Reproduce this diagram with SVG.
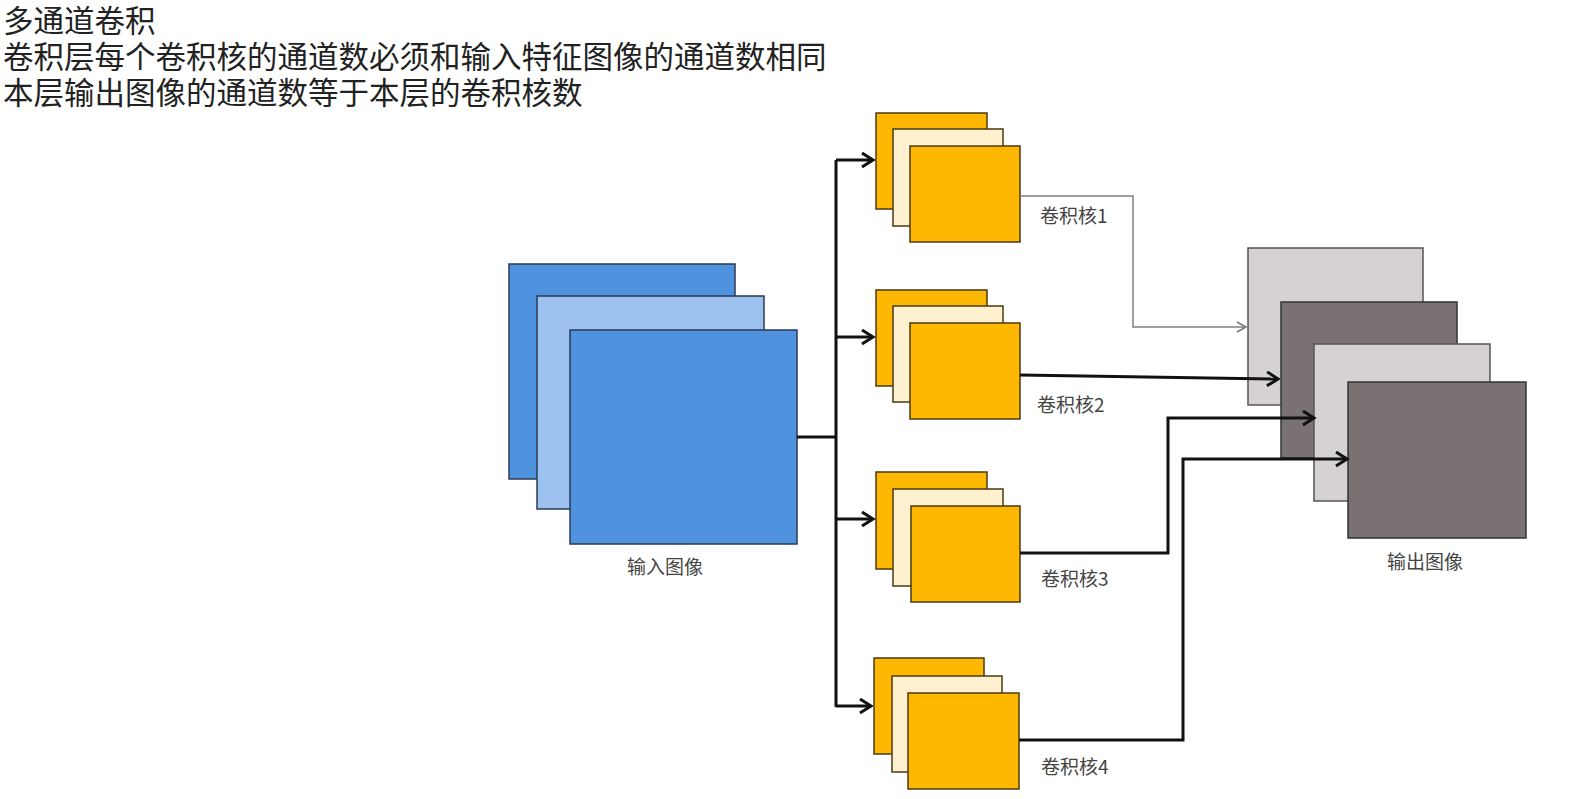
<svg xmlns="http://www.w3.org/2000/svg" width="1574" height="799" viewBox="0 0 1574 799">
<defs>
<marker id="ah" markerUnits="userSpaceOnUse" markerWidth="16" markerHeight="18" refX="13" refY="8" orient="auto" viewBox="0 0 16 18">
<path d="M2,1 L13,8 L2,15" fill="none" stroke="#111" stroke-width="3"/>
</marker>
<marker id="ahThin" markerUnits="userSpaceOnUse" markerWidth="14" markerHeight="14" refX="11" refY="6" orient="auto" viewBox="0 0 14 14">
<path d="M2,1 L11,6 L2,11" fill="none" stroke="#777" stroke-width="1.5"/>
</marker>
</defs>
<style>
.title{font-family:"Noto Sans CJK SC","Noto Sans",sans-serif;font-size:30.5px;fill:#222}
.lbl{font-family:"Noto Sans CJK SC","Noto Sans",sans-serif;font-size:19px;fill:#444}
.blue{fill:#4F93DF;stroke:#2a3a55;stroke-width:1.5}
.lblue{fill:#9DC2F0;stroke:#2a3a55;stroke-width:1.5}
.org{fill:#FFB802;stroke:#4a3a10;stroke-width:1.5}
.cream{fill:#FFF1CF;stroke:#4a3a10;stroke-width:1.5}
.lgray{fill:#D5D1D5;stroke:#555;stroke-width:1.5}
.dgray{fill:#7A7272;stroke:#333;stroke-width:1.5}
.conn{fill:none;stroke:#111;stroke-width:3}
.thin{fill:none;stroke:#808080;stroke-width:1.5}
</style>
<rect width="1574" height="799" fill="#ffffff"/>
<g id="header">
<text class="title" x="3" y="32">多通道卷积</text>
<text class="title" x="3" y="68">卷积层每个卷积核的通道数必须和输入特征图像的通道数相同</text>
<text class="title" x="3" y="104">本层输出图像的通道数等于本层的卷积核数</text>
</g>
<g id="input-image">
<rect class="blue" x="509" y="264" width="226" height="215"/>
<rect class="lblue" x="537" y="296" width="227" height="213"/>
<rect class="blue" x="570" y="330" width="227" height="214"/>
<text class="lbl" x="665" y="574" text-anchor="middle" font-size="20">输入图像</text>
</g>
<g id="kernel1">
<rect class="org" x="876" y="113" width="111" height="96"/>
<rect class="cream" x="893" y="129" width="110" height="97"/>
<rect class="org" x="910" y="146" width="110" height="96"/>
<text class="lbl" x="1040" y="223">卷积核1</text>
</g>
<g id="kernel2">
<rect class="org" x="876" y="290" width="111" height="96"/>
<rect class="cream" x="893" y="306" width="110" height="96"/>
<rect class="org" x="910" y="323" width="110" height="96"/>
<text class="lbl" x="1037" y="412">卷积核2</text>
</g>
<g id="kernel3">
<rect class="org" x="876" y="472" width="111" height="97"/>
<rect class="cream" x="893" y="489" width="110" height="97"/>
<rect class="org" x="911" y="506" width="109" height="96"/>
<text class="lbl" x="1041" y="586">卷积核3</text>
</g>
<g id="kernel4">
<rect class="org" x="874" y="658" width="110" height="96"/>
<rect class="cream" x="892" y="676" width="110" height="96"/>
<rect class="org" x="908" y="693" width="111" height="96"/>
<text class="lbl" x="1041" y="774">卷积核4</text>
</g>
<g id="output-image">
<rect class="lgray" x="1248" y="248" width="175" height="157"/>
<rect class="dgray" x="1281" y="302" width="176" height="156"/>
<rect class="lgray" x="1314" y="344" width="176" height="157"/>
<rect class="dgray" x="1348" y="382" width="178" height="156"/>
<text class="lbl" x="1425" y="569" text-anchor="middle" font-size="20">输出图像</text>
</g>
<g id="connectors">
<path class="conn" d="M797,437 H836"/>
<path class="conn" d="M836,160 V707"/>
<path class="conn" d="M836,160 H873" marker-end="url(#ah)"/>
<path class="conn" d="M836,337 H873" marker-end="url(#ah)"/>
<path class="conn" d="M836,519 H873" marker-end="url(#ah)"/>
<path class="conn" d="M836,706 H871" marker-end="url(#ah)"/>
<path class="thin" d="M1020,196 H1133 V327 H1246" marker-end="url(#ahThin)"/>
<path class="conn" d="M1020,375 L1278,379" marker-end="url(#ah)"/>
<path class="conn" d="M1020,553 H1168 V418 H1314" marker-end="url(#ah)"/>
<path class="conn" d="M1019,740 H1183 V459 H1347" marker-end="url(#ah)"/>
</g>
</svg>
